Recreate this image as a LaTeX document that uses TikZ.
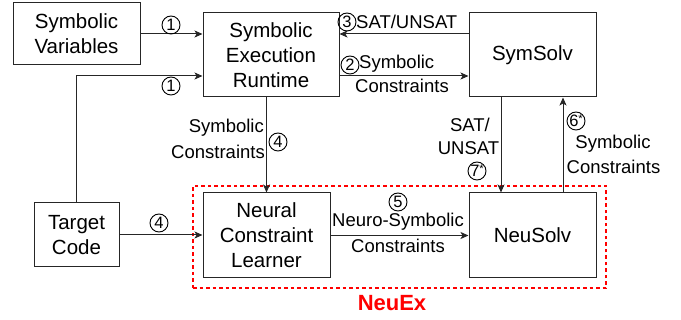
\documentclass[tikz,border=0pt]{standalone}
\usepackage{fontspec}
\setmainfont{Liberation Sans}
\usetikzlibrary{arrows.meta}
\definecolor{frred}{RGB}{255,0,0}
\tikzset{
  box/.style={draw=black!85, line width=1pt, inner sep=0pt, align=center, font=\fontsize{20.5}{25}\selectfont},
  arr/.style={draw=black!85, line width=1pt, -{Stealth[length=8pt,width=7pt,inset=2pt]}},
  lbl/.style={inner sep=0pt, align=center, font=\fontsize{18.5}{23}\selectfont},
  circ/.style={circle, draw=black, line width=0.9pt, inner sep=0pt, minimum size=18pt, font=\fontsize{16.5}{16.5}\selectfont},
}
\begin{document}
\begin{tikzpicture}[x=1pt,y=-1pt]
\useasboundingbox (0,0) rectangle (681,320);
% boxes
\node[box, minimum width=127pt, minimum height=62pt] (sv) at (76.5,34) {Symbolic\\Variables};
\node[box, minimum width=136pt, minimum height=84pt] (ser) at (271,55) {Symbolic\\Execution\\Runtime};
\node[box, minimum width=127pt, minimum height=84pt] (ss) at (532.5,55) {SymSolv};
\node[box, minimum width=85pt, minimum height=64pt] (tc) at (76.5,235) {Target\\Code};
\node[box, minimum width=127pt, minimum height=85pt] (ncl) at (266.5,235.5) {Neural\\Constraint\\Learner};
\node[box, minimum width=127pt, minimum height=85pt] (ns) at (532.5,235.5) {NeuSolv};
% NeuEx frame
\node[draw=frred, line width=1.15pt, dash pattern=on 3.5pt off 3pt, minimum width=413pt, minimum height=102pt, inner sep=0pt] (frame) at (399.5,237) {};
\node[inner sep=0pt, text=frred, font=\fontsize{22}{22}\selectfont\bfseries] (neuex) at (392,303) {NeuEx};
% connectors
\draw[arr] (sv.east) -- (sv.east -| ser.west);
\draw[arr] (tc.north) |- ([yshift=-21pt]ser.west);
\draw[arr] ([yshift=21pt]ss.west) -- ([yshift=21pt]ser.east);
\draw[arr] ([yshift=-21pt]ser.east) -- ([yshift=-21pt]ss.west);
\draw[arr] (ncl.north |- ser.south) -- (ncl.north);
\draw[arr] (tc.east) -- (tc.east -| ncl.west);
\draw[arr] (ncl.east) -- (ns.west);
\draw[arr] ([xshift=-31.5pt]ss.south) -- ([xshift=-31.5pt]ns.north);
\draw[arr] ([xshift=30.5pt]ns.north) -- ([xshift=30.5pt]ss.south);
% labels
\node[circ] (c1a) at (171,25) {1};
\node[circ] (c1b) at (171,86) {1};
\node[circ] (c3) at (347,22) {3};
\node[lbl, anchor=west] (l3) at (356,22) {SAT/UNSAT};
\node[circ] (c2) at (350,65) {2};
\node[lbl, anchor=west] (l2) at (359,64) {Symbolic};
\node[lbl] (l2b) at (402,86) {Constraints};
\node[lbl, anchor=east] (l4a) at (264,128) {Symbolic};
\node[lbl, anchor=east] (l4b) at (265,152) {Constraints};
\node[circ] (c4a) at (278,142) {4};
\node[circ] (c4b) at (159,223) {4};
\node[circ] (c5) at (398,202) {5};
\node[lbl] (l5a) at (398,222) {Neuro-Symbolic};
\node[lbl] (l5b) at (398,246) {Constraints};
\node[lbl] (l7a) at (470,125) {SAT/};
\node[lbl] (l7b) at (468.5,148) {UNSAT};
\node[circ] (c7) at (477,171) {7\raisebox{0.45ex}{\fontsize{11}{11}\selectfont *}};
\node[circ] (c6) at (576,121) {6\raisebox{0.45ex}{\fontsize{11}{11}\selectfont *}};
\node[lbl] (l6a) at (613,144) {Symbolic};
\node[lbl] (l6b) at (613.5,167) {Constraints};
\end{tikzpicture}
\end{document}
